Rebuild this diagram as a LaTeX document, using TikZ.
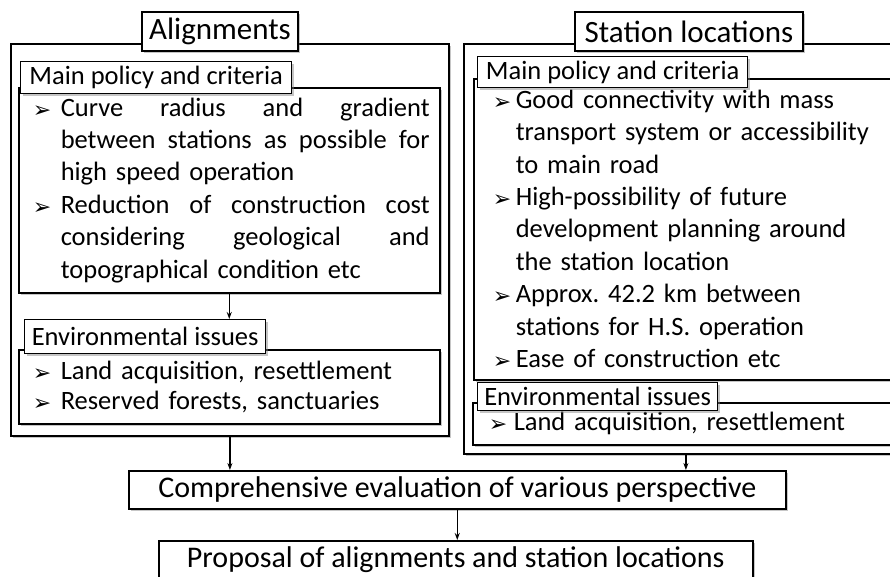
\documentclass[tikz,border=0pt]{standalone}
\usepackage{fontspec}
\setmainfont{Carlito}
\newfontfamily\arrowfont{DejaVu Sans}
\usetikzlibrary{arrows.meta,shadows}
\newlength{\bulletgap}
\newcommand{\pitem}[1]{\noindent\llap{\makebox[\bulletgap][l]{\raisebox{-1pt}{\arrowfont\fontsize{22}{22}\selectfont ➢}}}#1\par}
\newcommand{\jl}[1]{\hbox to 369pt{#1}\newline}
\tikzset{
  boxshadow/.style={drop shadow={shadow xshift=2pt, shadow yshift=-2pt, opacity=0.45}},
  outerbox/.style={draw, line width=1.8pt, fill=white, boxshadow, anchor=north west, inner sep=0pt},
  titlebox/.style={draw, line width=1.5pt, fill=white, boxshadow, inner sep=0pt,
    font=\fontsize{31}{36}\selectfont},
  labelbox/.style={draw, line width=1.4pt, fill=white, boxshadow, anchor=north west, inner sep=0pt,
    font=\fontsize{26.5}{32}\selectfont},
  listbox/.style={draw, line width=1.5pt, fill=white, boxshadow, anchor=north west, inner sep=0pt,
    font=\fontsize{26.5}{32.4}\selectfont\frenchspacing},
  resultbox/.style={draw, line width=1.5pt, fill=white, boxshadow, anchor=north west, inner sep=0pt,
    font=\fontsize{30}{36}\selectfont},
  flow/.style={-{Stealth[length=7pt,width=5pt]}, line width=1.2pt}
}
\begin{document}
\begin{tikzpicture}[x=1pt, y=-1pt]
  \useasboundingbox (0,0) rectangle (890,576);
  \clip (0,0) rectangle (890,576);
  % left column: alignments
  \node[outerbox, minimum width=438, minimum height=392] (lout) at (10,43) {};
  \node[titlebox, minimum width=156, minimum height=39] (ltitle) at (220,31.5) {Alignments};
  \node[listbox, minimum width=421, text width=421pt, minimum height=205] (lmain) at (18,87)
    {\setlength{\bulletgap}{28pt}\leftskip=42pt \rightskip=0pt plus 1fil
     \pitem{\jl{Curve \hfill radius \hfill and \hfill gradient}%
       \jl{between \hfill stations \hfill as \hfill possible \hfill for}high speed operation}
     \pitem{\jl{Reduction \hfill of \hfill construction \hfill cost}%
       \jl{considering \hfill geological \hfill and}topographical condition etc}
     \vspace*{14pt}};
  \node[labelbox, minimum width=271, minimum height=32] (lmainlab) at (20,61) {Main policy and criteria};
  \node[listbox, minimum width=421, text width=421pt, minimum height=74,
    font=\fontsize{26.5}{30}\selectfont] (lenv) at (18,349)
    {\setlength{\bulletgap}{28pt}\leftskip=42pt \rightskip=0pt plus 1fil
     \pitem{Land acquisition, resettlement}
     \pitem{Reserved forests, sanctuaries}
     \vspace*{12pt}};
  \node[labelbox, minimum width=241, minimum height=34] (lenvlab) at (24,319) {Environmental issues};
  % right column: station locations
  \node[outerbox, minimum width=444, minimum height=410] (rout) at (463,43) {};
  \node[titlebox, minimum width=228, minimum height=39] (rtitle) at (689,31.5) {Station locations};
  \node[listbox, minimum width=427, text width=427pt, minimum height=301] (rmain) at (473,78)
    {\setlength{\bulletgap}{23pt}\leftskip=42pt \rightskip=0pt plus 1fil
     \pitem{Good connectivity with mass\newline transport system or accessibility\newline to main road}
     \pitem{High-possibility of future\newline development planning around\newline the station location}
     \pitem{Approx. 42.2 km between\newline stations for H.S. operation}
     \pitem{Ease of construction etc}
     \vspace*{14pt}};
  \node[labelbox, minimum width=270, minimum height=31] (rmainlab) at (477,56) {Main policy and criteria};
  \node[listbox, minimum width=428, text width=428pt, minimum height=42] (renv) at (472,402)
    {\setlength{\bulletgap}{25pt}\leftskip=41pt \rightskip=0pt plus 1fil
     \pitem{Land acquisition, resettlement}
     \vspace*{14pt}};
  \node[labelbox, minimum width=240, minimum height=28] (renvlab) at (477,382) {Environmental issues};
  % evaluation and result
  \node[resultbox, minimum width=657, minimum height=38] (comp) at (128,470)
    {Comprehensive evaluation of various perspective};
  \node[resultbox, minimum width=594, minimum height=38] (prop) at (158,540)
    {Proposal of alignments and station locations};
  % connectors
  \draw[flow] (lmain.south) -- (lmain.south |- lenvlab.north);
  \draw[flow] (lout.south) -- (lout.south |- comp.north);
  \draw[flow] (rout.south) -- (rout.south |- comp.north);
  \draw[flow] (comp.south) -- (comp.south |- prop.north);
\end{tikzpicture}
\end{document}
